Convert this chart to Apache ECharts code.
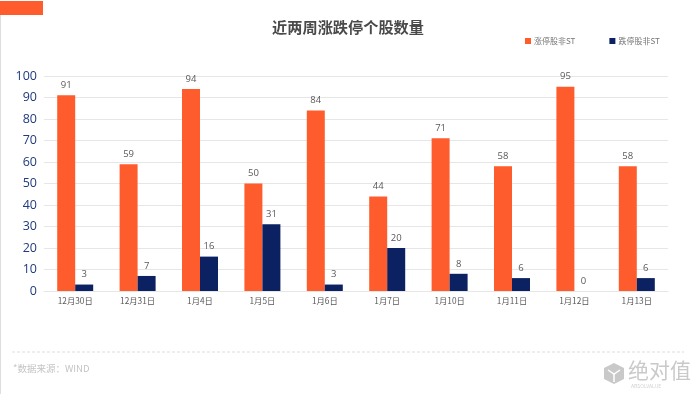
<!DOCTYPE html>
<html><head><meta charset="utf-8">
<style>html,body{margin:0;padding:0;background:#fff}#c{width:700px;height:394px}</style>
<script src="https://cdn.jsdelivr.net/npm/echarts@6/dist/echarts.min.js"></script>
</head><body><div id="c"></div>
<script>
const categories = ['12月30日','12月31日','1月4日','1月5日','1月6日','1月7日','1月10日','1月11日','1月12日','1月13日'];
const limitUp = [91,59,94,50,84,44,71,58,95,58];
const limitDown = [3,7,16,31,3,20,8,6,0,6];
const yTicks = {min:0,max:100,interval:10};
const FONT = '"Noto Sans CJK SC","Open Sans",sans-serif';
const chart = echarts.init(document.getElementById('c'),null,{renderer:'canvas'});
const label = {show:true,position:'top',color:'#595959',fontSize:9.5,fontFamily:'"Open Sans",sans-serif',distance:5};
chart.setOption({
  animation:false,
  backgroundColor:'#fff',
  title:{text:'近两周涨跌停个股数量',left:343,top:15,textAlign:'center',textStyle:{fontSize:15.2,fontWeight:'bold',color:'#4a4a4a',fontFamily:FONT}},
  legend:{top:32,left:520,itemWidth:6,itemHeight:6,itemGap:34,icon:'rect',
    textStyle:{fontSize:8,color:'#777',fontFamily:FONT,padding:[0,0,0,-2]}},
  grid:{left:44,right:32,top:76,bottom:103,containLabel:false},
  xAxis:{type:'category',data:categories,
    axisLine:{lineStyle:{color:'#e6e6e6',width:1}},axisTick:{show:false},
    axisLabel:{color:'#595959',fontSize:8.3,fontFamily:FONT,margin:6,interval:0}},
  yAxis:{type:'value',min:yTicks.min,max:yTicks.max,interval:yTicks.interval,
    axisLine:{show:false},axisTick:{show:false},
    splitLine:{lineStyle:{color:'#e6e6e6',width:1}},
    axisLabel:{color:'#1f3a7d',fontSize:12.5,fontFamily:'"Open Sans",sans-serif',margin:7}},
  series:[
    {name:'涨停股非ST',type:'bar',data:limitUp,barWidth:18,barGap:'0%',itemStyle:{color:'#FF5C2E'},label},
    {name:'跌停股非ST',type:'bar',data:limitDown,barWidth:18,itemStyle:{color:'#0B2161'},label}
  ],
  graphic:[
    {type:'rect',shape:{x:0,y:1,width:43,height:14},style:{fill:'#FF5C2E'}},
    {type:'rect',shape:{x:0,y:15,width:1,height:379},style:{fill:'#dedede'}},
    {type:'line',shape:{x1:12,y1:352,x2:684,y2:352},style:{stroke:'#dddddd',lineWidth:1,lineDash:[3,2]}},
    {type:'text',x:13,y:364,style:{text:'*数据来源：WIND',fill:'#c4c4c4',fontSize:9.5,fontFamily:FONT}},
    {type:'polygon',shape:{points:[[614,363],[624,368],[624,379],[614,384],[604,379],[604,368]]},style:{fill:'#c9c9c9'}},
    {type:'polyline',shape:{points:[[608,370],[614,374],[620,370]]},style:{stroke:'#fff',lineWidth:1.5,fill:null}},
    {type:'line',shape:{x1:614,y1:374,x2:614,y2:382},style:{stroke:'#fff',lineWidth:1.5}},
    {type:'text',x:628,y:360,style:{text:'绝对值',fill:'#c9c9c9',fontSize:21,fontFamily:FONT}},
    {type:'text',x:631,y:384,style:{text:'ABSOLVALUE',fill:'#d2d2d2',fontSize:5,fontFamily:FONT}}
  ]
});
</script></body></html>
